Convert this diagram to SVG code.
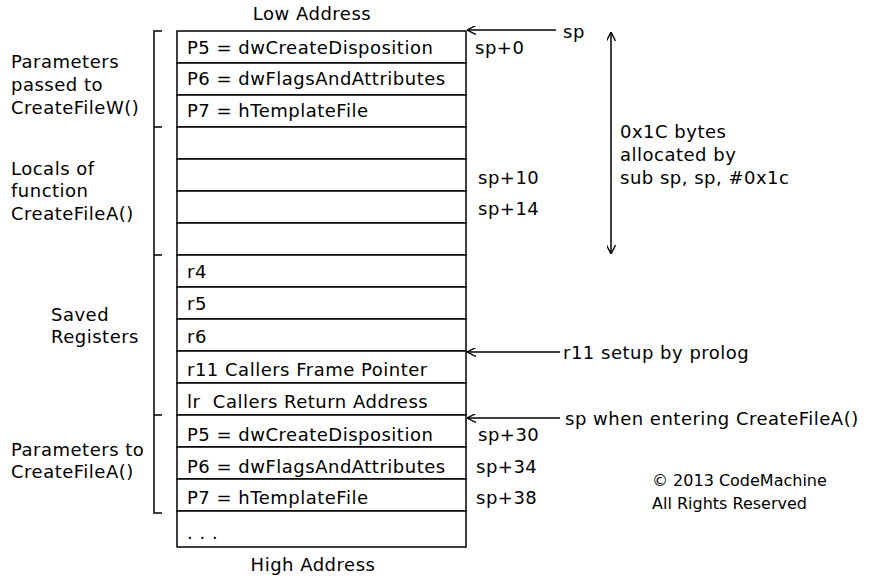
<svg xmlns="http://www.w3.org/2000/svg" width="872" height="588" viewBox="0 0 872 588">
<style>
text{font-family:"DejaVu Sans","Liberation Sans",sans-serif;font-size:18px;letter-spacing:0.5px;fill:#000;white-space:pre}
.c{stroke:#000;stroke-width:1.5;fill:#fff}
.l{stroke:#000;stroke-width:1.5;fill:none}
</style>
<defs><marker id="a" viewBox="0 0 10 10" refX="10" refY="5" markerWidth="9" markerHeight="9" orient="auto-start-reverse" markerUnits="userSpaceOnUse"><path d="M0,0 L10,5 L0,10" fill="none" stroke="#000" stroke-width="1.5"/></marker></defs>
<rect width="872" height="588" fill="#fff"/>
<text x="312" y="20" text-anchor="middle">Low Address</text>
<text x="313" y="571" text-anchor="middle">High Address</text>
<g id="stack">
<rect class="c" x="177" y="31" width="289" height="32"/><text x="187" y="54">P5 = dwCreateDisposition</text>
<rect class="c" x="177" y="63" width="289" height="32"/><text x="187" y="85">P6 = dwFlagsAndAttributes</text>
<rect class="c" x="177" y="95" width="289" height="32"/><text x="187" y="117">P7 = hTemplateFile</text>
<rect class="c" x="177" y="127" width="289" height="32"/>
<rect class="c" x="177" y="159" width="289" height="32"/>
<rect class="c" x="177" y="191" width="289" height="32"/>
<rect class="c" x="177" y="223" width="289" height="32"/>
<rect class="c" x="177" y="255" width="289" height="32"/><text x="187" y="278">r4</text>
<rect class="c" x="177" y="287" width="289" height="32"/><text x="187" y="310">r5</text>
<rect class="c" x="177" y="319" width="289" height="32"/><text x="187" y="343">r6</text>
<rect class="c" x="177" y="351" width="289" height="32"/><text x="187" y="376">r11 Callers Frame Pointer</text>
<rect class="c" x="177" y="383" width="289" height="32"/><text x="187" y="408">lr  Callers Return Address</text>
<rect class="c" x="177" y="415" width="289" height="32"/><text x="187" y="441">P5 = dwCreateDisposition</text>
<rect class="c" x="177" y="447" width="289" height="32"/><text x="187" y="473">P6 = dwFlagsAndAttributes</text>
<rect class="c" x="177" y="479" width="289" height="32"/><text x="187" y="504">P7 = hTemplateFile</text>
<rect class="c" x="177" y="511" width="289" height="36"/><text x="187" y="539">. . .</text>
</g>
<g id="offsets">
<text x="475" y="54">sp+0</text><text x="478" y="184">sp+10</text><text x="478" y="215">sp+14</text>
<text x="478" y="441">sp+30</text><text x="476" y="473">sp+34</text><text x="476" y="504">sp+38</text>
</g>
<g id="brackets">
<path class="l" d="M162,31 H154 V513 H162 M154,127 H162 M154,255 H162 M154,415 H162"/>
</g>
<g id="labels">
<text x="11" y="68">Parameters</text><text x="11" y="91">passed to</text><text x="11" y="114">CreateFileW()</text>
<text x="11" y="175">Locals of</text><text x="11" y="197">function</text><text x="11" y="220">CreateFileA()</text>
<text x="51" y="321">Saved</text><text x="51" y="343">Registers</text>
<text x="11" y="456">Parameters to</text><text x="11" y="478">CreateFileA()</text>
<text x="620" y="138">0x1C bytes</text><text x="620" y="161">allocated by</text><text x="620" y="184">sub sp, sp, #0x1c</text>
<text x="563" y="38">sp</text>
<text x="563" y="359">r11 setup by prolog</text>
<text x="565" y="425">sp when entering CreateFileA()</text>
<text x="652" y="486" style="font-size:16px;letter-spacing:0">© 2013 CodeMachine</text>
<text x="652" y="509" style="font-size:16px;letter-spacing:0">All Rights Reserved</text>
</g>
<g id="connectors">
<line class="l" x1="556" y1="30" x2="467" y2="30" marker-end="url(#a)"/>
<line class="l" x1="560" y1="352" x2="467" y2="352" marker-end="url(#a)"/>
<line class="l" x1="560" y1="418" x2="467" y2="418" marker-end="url(#a)"/>
<line class="l" x1="611" y1="32" x2="611" y2="254" marker-start="url(#a)" marker-end="url(#a)"/>
</g>
</svg>
